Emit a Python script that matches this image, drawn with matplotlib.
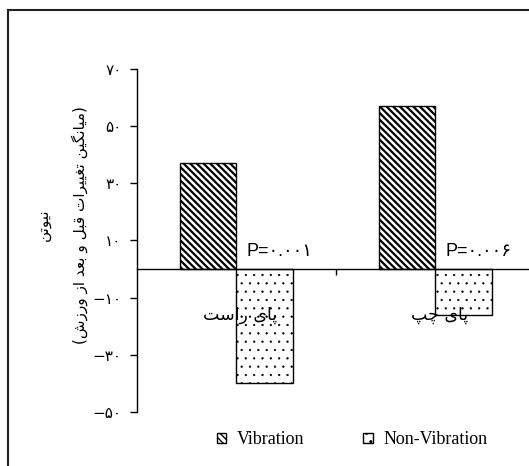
import matplotlib
matplotlib.use("Agg")
import matplotlib.pyplot as plt
from matplotlib.lines import Line2D
from matplotlib.ticker import FuncFormatter, FixedLocator
import numpy as np

# data
categories = ["پای راست", "پای چپ"]
series = ["Vibration", "Non-Vibration"]
vibration = [37, 57]
non_vibration = [-40, -16]
p_labels = ["P=۰.۰۰۱", "P=۰.۰۰۶"]
y_ticks = [-50, -30, -10, 10, 30, 50, 70]
ylabel_lines = ["نیوتن", "(میانگین تغییرات قبل و بعد از ورزش)"]

# --- minimal arabic/persian shaping (matplotlib has no text shaping) ---
# letter: (isolated, final, initial, medial); None initial -> right-joining only
FORMS = {
    "ا": (0xFE8D, 0xFE8E, None, None),
    "ب": (0xFE8F, 0xFE90, 0xFE91, 0xFE92),
    "ت": (0xFE95, 0xFE96, 0xFE97, 0xFE98),
    "د": (0xFEA9, 0xFEAA, None, None),
    "ر": (0xFEAD, 0xFEAE, None, None),
    "ز": (0xFEAF, 0xFEB0, None, None),
    "س": (0xFEB1, 0xFEB2, 0xFEB3, 0xFEB4),
    "ش": (0xFEB5, 0xFEB6, 0xFEB7, 0xFEB8),
    "ع": (0xFEC9, 0xFECA, 0xFECB, 0xFECC),
    "غ": (0xFECD, 0xFECE, 0xFECF, 0xFED0),
    "ق": (0xFED5, 0xFED6, 0xFED7, 0xFED8),
    "ل": (0xFEDD, 0xFEDE, 0xFEDF, 0xFEE0),
    "م": (0xFEE1, 0xFEE2, 0xFEE3, 0xFEE4),
    "ن": (0xFEE5, 0xFEE6, 0xFEE7, 0xFEE8),
    "و": (0xFEED, 0xFEEE, None, None),
    "پ": (0xFB56, 0xFB57, 0xFB58, 0xFB59),
    "چ": (0xFB7A, 0xFB7B, 0xFB7C, 0xFB7D),
    "گ": (0xFB92, 0xFB93, 0xFB94, 0xFB95),
    "ی": (0xFBFC, 0xFBFD, 0xFBFE, 0xFBFF),
}


def shape(text):
    out = []
    for i, ch in enumerate(text):
        if ch not in FORMS:
            out.append(ch)
            continue
        prev = text[i - 1] if i > 0 else ""
        nxt = text[i + 1] if i + 1 < len(text) else ""
        join_prev = prev in FORMS and FORMS[prev][2] is not None
        join_next = FORMS[ch][2] is not None and nxt in FORMS
        iso, fin, ini, med = FORMS[ch]
        if join_prev and join_next:
            code = med
        elif join_prev:
            code = fin
        elif join_next:
            code = ini
        else:
            code = iso
        out.append(chr(code))
    # visual order, mirror brackets
    vis = "".join(reversed(out))
    return vis.translate(str.maketrans("()", ")("))


def fa_digits(s):
    return s.translate(str.maketrans("0123456789", "۰۱۲۳۴۵۶۷۸۹"))


plt.rcParams["hatch.color"] = "black"

fig = plt.figure(figsize=(5.29, 4.66), dpi=100)
ax = fig.add_axes([137 / 529, 54 / 466, 398 / 529, 343 / 466])

x = np.arange(len(categories))
w = 0.286
with plt.rc_context({"hatch.linewidth": 1.6}):
    b1 = ax.bar(x - w / 2, vibration, w, facecolor="white", edgecolor="black",
                linewidth=1, hatch="\\\\\\\\\\", label=series[0])
with plt.rc_context({"hatch.linewidth": 0.4, "hatch.color": "#333333"}):
    b2 = ax.bar(x + w / 2, non_vibration, w, facecolor="white", edgecolor="black",
                linewidth=1, hatch="..", label=series[1])
for bars, lw in ((b1, 1.6), (b2, 0.4)):
    for p in bars:
        if hasattr(p, "set_hatch_linewidth"):
            p.set_hatch_linewidth(lw)

ax.set_xlim(-0.5, 1.5)
ax.set_ylim(-50, 70)

ax.spines["top"].set_visible(False)
ax.spines["right"].set_visible(False)
ax.spines["bottom"].set_position(("data", 0))
ax.spines["left"].set_linewidth(1)
ax.spines["bottom"].set_linewidth(1)

ax.yaxis.set_major_locator(FixedLocator(y_ticks))
ax.yaxis.set_major_formatter(FuncFormatter(lambda v, p: fa_digits("%d" % v).replace("-", "−")))
ax.tick_params(axis="y", direction="out", length=5, width=1, pad=6, labelsize=11)
for lab in ax.get_yticklabels():
    lab.set_family("DejaVu Sans")

ax.xaxis.set_major_locator(FixedLocator([0.5]))
ax.tick_params(axis="x", direction="out", length=4, width=1, labelbottom=False)

for xi, cat in zip(x, categories):
    ax.text(xi + 0.02, -16, shape(cat), ha="center", va="center", fontsize=12.5,
            family="DejaVu Sans")

for xi, pl in zip(x, p_labels):
    ax.text(xi + 0.05, 6, pl, ha="left", va="center", fontsize=13,
            family=["Liberation Sans", "DejaVu Sans"])

fig.text(43 / 529, 1 - 225 / 466, shape(ylabel_lines[0]), rotation=90,
         ha="center", va="center", fontsize=11, family="DejaVu Sans")
fig.text(80 / 529, 1 - 225 / 466, shape(ylabel_lines[1]), rotation=90,
         ha="center", va="center", fontsize=11, family="DejaVu Sans")

leg = fig.legend(loc="center", bbox_to_anchor=(352 / 529, 26 / 466), ncol=2,
                 frameon=False, handlelength=0.5, handleheight=0.5,
                 handletextpad=0.6, columnspacing=3.3,
                 prop={"family": "Liberation Serif", "size": 13})

# outer frame (only the left and top edges fall inside the picture)
fig.add_artist(Line2D([8 / 529, 8 / 529], [0, 1 - 9.5 / 466],
                      transform=fig.transFigure, color="#222222", linewidth=1.5))
fig.add_artist(Line2D([8 / 529, 1], [1 - 9.5 / 466, 1 - 9.5 / 466],
                      transform=fig.transFigure, color="#222222", linewidth=1.5))

fig.savefig("out.png", dpi=100)
